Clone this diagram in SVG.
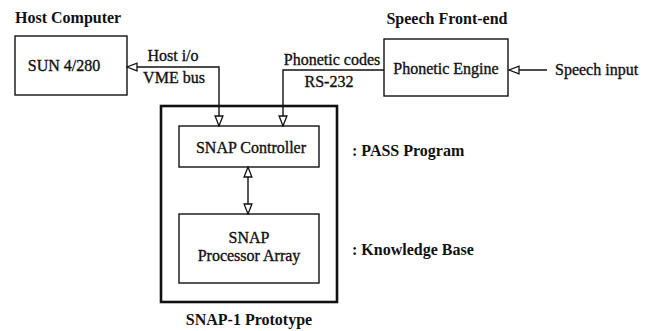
<svg xmlns="http://www.w3.org/2000/svg" width="654" height="331" viewBox="0 0 654 331">
<defs>
<style>
text{font-family:"Liberation Serif","Times New Roman",serif;fill:#111;}
.lbl{font-size:16px;stroke:#111;stroke-width:0.35;}
.hdr{font-size:16px;font-weight:bold;}
.box{fill:none;stroke:#111;stroke-width:1.4;}
.outer{fill:none;stroke:#111;stroke-width:2.6;}
.con{fill:none;stroke:#111;stroke-width:1.4;}
</style>
<marker id="ah" markerUnits="userSpaceOnUse" markerWidth="12" markerHeight="10" refX="11" refY="4.5" orient="auto-start-reverse" viewBox="0 0 12 9">
<path d="M1,0.6 L11,4.5 L1,8.4 z" fill="#fff" stroke="#111" stroke-width="1.3"/>
</marker>
</defs>
<rect width="654" height="331" fill="#fff"/>
<g id="host">
<text class="hdr" x="15" y="23">Host Computer</text>
<rect class="box" x="15" y="36" width="112" height="59"/>
<text class="lbl" x="64" y="71" text-anchor="middle">SUN 4/280</text>
</g>
<g id="frontend">
<text class="hdr" x="447" y="24" text-anchor="middle">Speech Front-end</text>
<rect class="box" x="384" y="39" width="124" height="57"/>
<text class="lbl" x="446" y="74" text-anchor="middle">Phonetic Engine</text>
</g>
<g id="prototype">
<rect class="outer" x="161" y="106" width="176" height="196"/>
<text class="hdr" x="249" y="325" text-anchor="middle">SNAP-1 Prototype</text>
</g>
<g id="controller">
<rect class="box" x="179" y="126" width="140" height="41"/>
<text class="lbl" x="251" y="153" text-anchor="middle">SNAP Controller</text>
<text class="hdr" x="352" y="156">: PASS Program</text>
</g>
<g id="array">
<rect class="box" x="179" y="214" width="140" height="69"/>
<text class="lbl" x="249" y="243" text-anchor="middle">SNAP</text>
<text class="lbl" x="249" y="261" text-anchor="middle">Processor Array</text>
<text class="hdr" x="352" y="255">: Knowledge Base</text>
</g>
<g id="connectors">
<path class="con" d="M127,67 H219 V126" marker-start="url(#ah)" marker-end="url(#ah)"/>
<path class="con" d="M384,70 H283 V126" marker-end="url(#ah)"/>
<path class="con" d="M547,70 H509" marker-end="url(#ah)"/>
<path class="con" d="M248,167 V214" marker-start="url(#ah)" marker-end="url(#ah)"/>
<text class="lbl" x="173" y="61" text-anchor="middle">Host i/o</text>
<text class="lbl" x="174" y="83" text-anchor="middle">VME bus</text>
<text class="lbl" x="332" y="65" text-anchor="middle">Phonetic codes</text>
<text class="lbl" x="329" y="87" text-anchor="middle">RS-232</text>
<text class="lbl" x="555" y="75">Speech input</text>
</g>
</svg>
